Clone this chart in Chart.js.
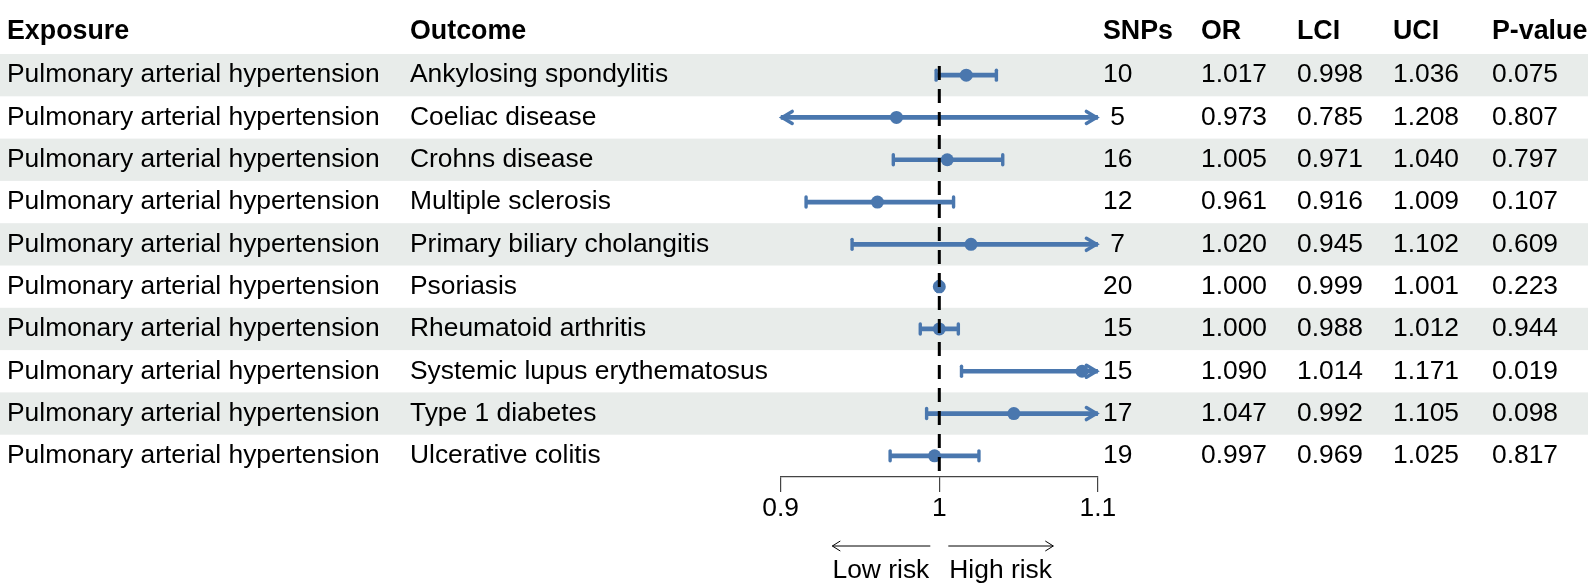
<!DOCTYPE html>
<html lang="en">
<head>
    <meta charset="UTF-8">
    <title>Forest plot</title>
    <script src="https://cdn.jsdelivr.net/npm/chart.js"></script>
    <style>
        body { margin: 0; background: #fff; }
    </style>
</head>
<body>
    <canvas id="forest" width="1588" height="584"></canvas>
    <script>
        // table data
        const exposures = Array(10).fill('Pulmonary arterial hypertension');
        const outcomes = ['Ankylosing spondylitis', 'Coeliac disease', 'Crohns disease', 'Multiple sclerosis',
            'Primary biliary cholangitis', 'Psoriasis', 'Rheumatoid arthritis', 'Systemic lupus erythematosus',
            'Type 1 diabetes', 'Ulcerative colitis'];
        const snps = [10, 5, 16, 12, 7, 20, 15, 15, 17, 19];
        const orVals = [1.017, 0.973, 1.005, 0.961, 1.020, 1.000, 1.000, 1.090, 1.047, 0.997];
        const lci = [0.998, 0.785, 0.971, 0.916, 0.945, 0.999, 0.988, 1.014, 0.992, 0.969];
        const uci = [1.036, 1.208, 1.040, 1.009, 1.102, 1.001, 1.012, 1.171, 1.105, 1.025];
        const pvals = ['0.075', '0.807', '0.797', '0.107', '0.609', '0.223', '0.944', '0.019', '0.098', '0.817'];
        const xTicks = [0.9, 1, 1.1];
        const xMin = 0.9, xMax = 1.1, refLine = 1;

        const FONT = '"Liberation Sans", Arial, sans-serif';
        const BLUE = '#4a77ae';
        const BAND = '#e8ecea';

        // columns of the table: header, x, text getter
        const columns = [
            { head: 'Exposure', x: 7, get: i => exposures[i] },
            { head: 'Outcome', x: 410, get: i => outcomes[i] },
            { head: 'SNPs', x: 1103, get: i => String(snps[i]).padStart(2, ' ') },
            { head: 'OR', x: 1201, get: i => orVals[i].toFixed(3) },
            { head: 'LCI', x: 1297, get: i => lci[i].toFixed(3) },
            { head: 'UCI', x: 1393, get: i => uci[i].toFixed(3) },
            { head: 'P-value', x: 1492, get: i => pvals[i] }
        ];

        function rowGeom(chart) {
            const y = chart.scales.y;
            const y0 = y.getPixelForValue(0);
            const h = y.getPixelForValue(1) - y0;
            return { y0, h };
        }

        const tablePlugin = {
            id: 'table',
            beforeDraw(chart) {
                const ctx = chart.ctx;
                const { y0, h } = rowGeom(chart);
                ctx.save();
                ctx.fillStyle = BAND;
                for (let i = 0; i < outcomes.length; i += 2) {
                    ctx.fillRect(0, y0 + i * h - h / 2, chart.width, h);
                }
                ctx.restore();
            },
            beforeDatasetsDraw(chart) {
                // caps and arrow heads of the CI lines
                const ctx = chart.ctx;
                const xs = chart.scales.x, ys = chart.scales.y;
                ctx.save();
                ctx.strokeStyle = BLUE;
                outcomes.forEach((o, i) => {
                    const y = ys.getPixelForValue(i);
                    [[lci[i], -1], [uci[i], 1]].forEach(([v, dir]) => {
                        if ((dir < 0 && v < xMin) || (dir > 0 && v > xMax)) {
                            const tip = xs.getPixelForValue(dir < 0 ? xMin : xMax) - dir * 1.5;
                            ctx.lineWidth = 3.5;
                            ctx.lineJoin = 'miter';
                            ctx.beginPath();
                            ctx.moveTo(tip - dir * 10, y - 6);
                            ctx.lineTo(tip, y);
                            ctx.lineTo(tip - dir * 10, y + 6);
                            ctx.stroke();
                        } else {
                            const x = xs.getPixelForValue(v);
                            ctx.lineWidth = 3.4;
                            ctx.lineCap = 'round';
                            ctx.beginPath();
                            ctx.moveTo(x, y - 5);
                            ctx.lineTo(x, y + 5);
                            ctx.stroke();
                        }
                    });
                });
                ctx.restore();
            },
            afterDatasetsDraw(chart) {
                const ctx = chart.ctx;
                const xs = chart.scales.x;
                const area = chart.chartArea;
                const cx = xs.getPixelForValue(refLine);
                ctx.save();
                ctx.strokeStyle = '#000';
                ctx.lineWidth = 3;
                ctx.setLineDash([14, 9]);
                ctx.beginPath();
                ctx.moveTo(cx, area.top + 12);
                ctx.lineTo(cx, area.bottom);
                ctx.stroke();
                ctx.restore();
            },
            afterDraw(chart) {
                const ctx = chart.ctx;
                const { y0, h } = rowGeom(chart);
                ctx.save();
                ctx.fillStyle = '#000';
                ctx.textBaseline = 'middle';
                ctx.textAlign = 'left';
                ctx.font = 'bold 26.8px ' + FONT;
                columns.forEach(c => ctx.fillText(c.head, c.x, y0 - h * 1.03));
                ctx.font = '26.4px ' + FONT;
                outcomes.forEach((o, i) => {
                    columns.forEach(c => ctx.fillText(c.get(i), c.x, y0 + i * h));
                });

                // low / high risk arrows under the axis
                const cx = chart.scales.x.getPixelForValue(refLine);
                const ay = 546;
                ctx.strokeStyle = '#000';
                ctx.lineWidth = 1;
                ctx.beginPath();
                ctx.moveTo(cx - 9, ay); ctx.lineTo(cx - 107, ay);
                ctx.moveTo(cx - 99, ay - 5); ctx.lineTo(cx - 107, ay); ctx.lineTo(cx - 99, ay + 5);
                ctx.moveTo(cx + 9, ay); ctx.lineTo(cx + 114, ay);
                ctx.moveTo(cx + 106, ay - 5); ctx.lineTo(cx + 114, ay); ctx.lineTo(cx + 106, ay + 5);
                ctx.stroke();
                ctx.textAlign = 'right';
                ctx.fillText('Low risk', cx - 10, 570.5);
                ctx.textAlign = 'left';
                ctx.fillText('High risk', cx + 10, 570.5);
                ctx.restore();
            }
        };

        const ctx = document.getElementById('forest').getContext('2d');
        new Chart(ctx, {
            type: 'bar',
            data: {
                labels: outcomes,
                datasets: [{
                    type: 'scatter',
                    data: orVals.map((v, i) => ({ x: v, y: outcomes[i] })),
                    backgroundColor: BLUE,
                    borderWidth: 0,
                    pointRadius: 6.5,
                    order: 0
                }, {
                    type: 'bar',
                    indexAxis: 'y',
                    data: lci.map((lo, i) => [Math.max(lo, xMin), Math.min(uci[i], xMax)]),
                    backgroundColor: BLUE,
                    borderWidth: 0,
                    borderSkipped: false,
                    barThickness: 4,
                    order: 1
                }]
            },
            options: {
                responsive: false,
                animation: false,
                devicePixelRatio: 1,
                layout: { padding: { left: 780.7, right: 490.1, top: 54, bottom: 0 } },
                plugins: { legend: { display: false }, tooltip: { enabled: false } },
                scales: {
                    x: {
                        type: 'linear',
                        min: xMin,
                        max: xMax,
                        offset: false,
                        afterBuildTicks: s => { s.ticks = xTicks.map(v => ({ value: v })); },
                        afterFit: s => { s.height = 107; },
                        grid: { offset: false, drawOnChartArea: false, tickLength: 15, color: '#444', lineWidth: 1.2 },
                        border: { display: true, color: '#444', width: 1.2 },
                        ticks: {
                            color: '#000', font: { family: FONT, size: 26.4 }, padding: 1, maxRotation: 0,
                            callback: v => String(+v.toFixed(3))
                        }
                    },
                    y: {
                        type: 'category',
                        labels: outcomes,
                        offset: true,
                        display: false
                    }
                }
            },
            plugins: [tablePlugin]
        });
    </script>
</body>
</html>
